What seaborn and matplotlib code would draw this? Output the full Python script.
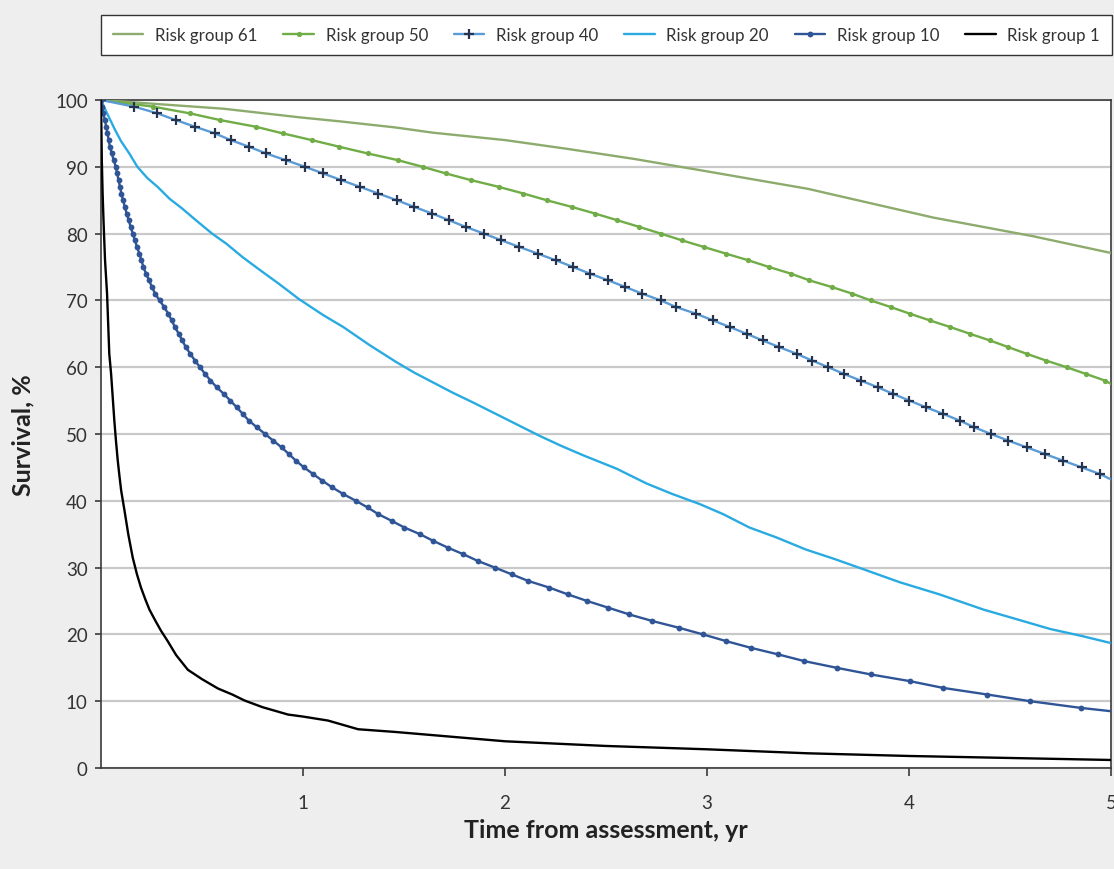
import matplotlib
matplotlib.use("Agg")
import matplotlib.pyplot as plt
from matplotlib.lines import Line2D
import seaborn as sns

# ---------------- data ----------------
series_labels = ["Risk group 61", "Risk group 50", "Risk group 40",
                 "Risk group 20", "Risk group 10", "Risk group 1"]

g61_time = [0.0, 0.276, 0.605, 0.985, 1.183, 1.455, 1.645, 2.0, 2.305, 2.635,
            2.965, 3.5, 3.658, 4.12, 4.615, 5.0]
g61_surv = [100, 99.4, 98.7, 97.4, 96.8, 95.9, 95.1, 94.0, 92.7, 91.2,
            89.5, 86.7, 85.6, 82.4, 79.6, 77.1]

g50_time = [0.0, 0.259, 0.44, 0.589, 0.766, 0.9, 1.043, 1.18, 1.32, 1.469,
            1.592, 1.708, 1.832, 1.969, 2.091, 2.206, 2.33, 2.446, 2.556, 2.665,
            2.771, 2.875, 2.984, 3.094, 3.205, 3.307, 3.416, 3.507, 3.618, 3.72,
            3.81, 3.91, 4.005, 4.104, 4.205, 4.302, 4.401, 4.492, 4.583, 4.678,
            4.78, 4.875, 4.97, 5.0]
g50_surv = [100, 99, 98, 97, 96, 95, 94, 93, 92, 91,
            90, 89, 88, 87, 86, 85, 84, 83, 82, 81,
            80, 79, 78, 77, 76, 75, 74, 73, 72, 71,
            70, 69, 68, 67, 66, 65, 64, 63, 62, 61,
            60, 59, 58, 57.5]

g40_time = [0.0, 0.165, 0.279, 0.37, 0.465, 0.564, 0.642, 0.733, 0.817, 0.914,
            1.01, 1.10, 1.19, 1.282, 1.373, 1.464, 1.55, 1.64, 1.723, 1.805,
            1.896, 1.982, 2.071, 2.162, 2.252, 2.337, 2.421, 2.511, 2.596, 2.68,
            2.771, 2.847, 2.946, 3.03, 3.114, 3.196, 3.276, 3.358, 3.444, 3.52,
            3.6, 3.677, 3.761, 3.845, 3.922, 4.002, 4.084, 4.17, 4.252, 4.323,
            4.406, 4.492, 4.583, 4.673, 4.764, 4.855, 4.946, 5.0]
g40_surv = [100, 99, 98, 97, 96, 95, 94, 93, 92, 91,
            90, 89, 88, 87, 86, 85, 84, 83, 82, 81,
            80, 79, 78, 77, 76, 75, 74, 73, 72, 71,
            70, 69, 68, 67, 66, 65, 64, 63, 62, 61,
            60, 59, 58, 57, 56, 55, 54, 53, 52, 51,
            50, 49, 48, 47, 46, 45, 44, 43.2]

g20_time = [0.0, 0.03, 0.07, 0.1, 0.14, 0.18, 0.23, 0.28, 0.34, 0.40,
            0.47, 0.55, 0.62, 0.70, 0.78, 0.88, 0.98, 1.1, 1.2, 1.33,
            1.46, 1.55, 1.645, 1.74, 1.843, 2.008, 2.1, 2.173, 2.28, 2.388,
            2.553, 2.7, 2.83, 2.965, 3.08, 3.21, 3.345, 3.49, 3.63, 3.77,
            3.955, 4.15, 4.37, 4.53, 4.7, 4.85, 5.0]
g20_surv = [100, 98, 95.5, 93.8, 92, 90, 88.3, 87, 85.2, 83.8,
            82, 80, 78.5, 76.5, 74.7, 72.5, 70.2, 67.8, 66, 63.3,
            60.8, 59.2, 57.7, 56.2, 54.7, 52.2, 50.8, 49.7, 48.2, 46.8,
            44.8, 42.6, 41, 39.5, 38, 36, 34.5, 32.7, 31.3, 29.8,
            27.8, 26, 23.7, 22.3, 20.8, 19.8, 18.7]

g10_time = [0.0, 0.006, 0.012, 0.019, 0.026, 0.032, 0.038, 0.044, 0.053, 0.063,
            0.073, 0.08, 0.087, 0.094, 0.101, 0.109, 0.118, 0.127, 0.137, 0.147,
            0.157, 0.168, 0.178, 0.19, 0.2, 0.21, 0.223, 0.238, 0.252, 0.268,
            0.29, 0.313, 0.333, 0.35, 0.366, 0.385, 0.402, 0.42, 0.442, 0.465,
            0.49, 0.515, 0.542, 0.573, 0.608, 0.64, 0.672, 0.702, 0.732, 0.772,
            0.812, 0.853, 0.894, 0.93, 0.965, 1.005, 1.05, 1.096, 1.145, 1.2,
            1.262, 1.32, 1.373, 1.439, 1.502, 1.579, 1.645, 1.716, 1.794, 1.865,
            1.95, 2.033, 2.115, 2.22, 2.31, 2.407, 2.511, 2.614, 2.73, 2.86,
            2.98, 3.094, 3.216, 3.353, 3.482, 3.642, 3.812, 4.005, 4.167, 4.388,
            4.6, 4.85, 5.0]
g10_surv = [100, 99, 98, 97, 96, 95, 94, 93, 92, 91,
            90, 89, 88, 87, 86, 85, 84, 83, 82, 81,
            80, 79, 78, 77, 76, 75, 74, 73, 72, 71,
            70, 69, 68, 67, 66, 65, 64, 63, 62, 61,
            60, 59, 58, 57, 56, 55, 54, 53, 52, 51,
            50, 49, 48, 47, 46, 45, 44, 43, 42, 41,
            40, 39, 38, 37, 36, 35, 34, 33, 32, 31,
            30, 29, 28, 27, 26, 25, 24, 23, 22, 21,
            20, 19, 18, 17, 16, 15, 14, 13, 12, 11,
            10, 9, 8.5]

g1_time = [0.0, 0.004, 0.008, 0.013, 0.02, 0.03, 0.041, 0.05, 0.058, 0.066,
           0.074, 0.083, 0.091, 0.1, 0.116, 0.135, 0.157, 0.178, 0.198, 0.22,
           0.24, 0.27, 0.298, 0.33, 0.372, 0.43, 0.5, 0.579, 0.65, 0.711,
           0.8, 0.926, 1.0, 1.124, 1.273, 1.455, 2.0, 2.5, 3.0, 3.5,
           4.0, 4.5, 5.0]
g1_surv = [100, 91, 86, 81.5, 76, 71, 62, 59, 55.5, 52,
           49, 46, 43.8, 41.5, 38.6, 35, 31.5, 29, 27, 25.2,
           23.7, 22, 20.5, 19, 16.9, 14.7, 13.3, 11.9, 11, 10.1,
           9.1, 8, 7.7, 7.1, 5.8, 5.4, 4, 3.3, 2.8, 2.2,
           1.8, 1.5, 1.2]

y_ticks = [0, 10, 20, 30, 40, 50, 60, 70, 80, 90, 100]
x_ticks = [1, 2, 3, 4, 5]

# ---------------- style ----------------
sns.set_theme(style="white")
plt.rcParams["font.family"] = ["Lato", "DejaVu Sans"]
plt.rcParams["xtick.major.pad"] = 13
plt.rcParams["ytick.major.pad"] = 5

W, H = 1114, 870
fig = plt.figure(figsize=(W / 100, H / 100), dpi=100, facecolor="#eeeeee")
ax = fig.add_axes([101 / W, 1 - 769 / H, (1111 - 101) / W, (769 - 101) / H])
ax.set_facecolor("white")

c61, c50, c40, c40m, c20, c10, c1 = ("#8dab6d", "#70ad47", "#5b9bd5", "#253551",
                                     "#29abe2", "#2f5597", "#000000")
lw = 1.7

sns.lineplot(x=g61_time, y=g61_surv, ax=ax, color=c61, lw=lw, sort=False,
             estimator=None, zorder=3)
sns.lineplot(x=g50_time, y=g50_surv, ax=ax, color=c50, lw=lw, sort=False,
             estimator=None, marker="o", markersize=3.8, markeredgewidth=0,
             markevery=list(range(len(g50_time) - 1)), zorder=3)
sns.lineplot(x=g40_time, y=g40_surv, ax=ax, color=c40, lw=lw, sort=False,
             estimator=None, marker="+", markersize=7, markeredgewidth=1.6,
             markeredgecolor=c40m, markevery=list(range(len(g40_time) - 1)),
             zorder=3)
sns.lineplot(x=g20_time, y=g20_surv, ax=ax, color=c20, lw=lw, sort=False,
             estimator=None, zorder=3)
sns.lineplot(x=g10_time, y=g10_surv, ax=ax, color=c10, lw=lw, sort=False,
             estimator=None, marker="o", markersize=4.2, markeredgewidth=0,
             markevery=list(range(len(g10_time) - 1)), zorder=4)
sns.lineplot(x=g1_time, y=g1_surv, ax=ax, color=c1, lw=lw, sort=False,
             estimator=None, zorder=5)

ax.set_xlim(0, 5)
ax.set_ylim(0, 100)
ax.set_xticks(x_ticks)
ax.set_xticklabels([str(v) for v in x_ticks])
ax.set_yticks(y_ticks)
ax.set_yticklabels([str(v) for v in y_ticks])

ax.yaxis.grid(True, color="#c9c9c9", lw=1.6)
ax.xaxis.grid(False)
ax.set_axisbelow(True)

for side in ["left", "bottom", "top", "right"]:
    ax.spines[side].set_visible(True)
    ax.spines[side].set_color("#3a3a3a")
    ax.spines[side].set_linewidth(1.2)

ax.tick_params(axis="x", direction="out", length=6, width=1.2, color="#3a3a3a",
               pad=13, labelsize=13.5, labelcolor="#333333", bottom=True)
ax.tick_params(axis="y", direction="out", length=4.5, width=1.2, color="#3a3a3a",
               pad=5, labelsize=13.5, labelcolor="#333333", left=True)

ax.set_xlabel("Time from assessment, yr", fontsize=18, fontweight="bold",
              color="#222222")
ax.xaxis.set_label_coords(0.5, -0.075)
ax.set_ylabel("Survival, %", fontsize=18, fontweight="bold", color="#222222")
ax.yaxis.set_label_coords(-0.066, 0.5)

if ax.get_legend() is not None:
    ax.get_legend().remove()

handles = [
    Line2D([], [], color=c61, lw=lw),
    Line2D([], [], color=c50, lw=lw, marker="o", markersize=3.8, markeredgewidth=0),
    Line2D([], [], color=c40, lw=lw, marker="+", markersize=7, markeredgewidth=1.6,
           markeredgecolor=c40m),
    Line2D([], [], color=c20, lw=lw),
    Line2D([], [], color=c10, lw=lw, marker="o", markersize=4.2, markeredgewidth=0),
    Line2D([], [], color=c1, lw=lw),
]
leg = fig.legend(handles, series_labels, loc="center",
                 bbox_to_anchor=(101 / W, 1 - 59 / H, (1112 - 101) / W, 46 / H),
                 mode="expand", ncol=6, frameon=True, fancybox=False,
                 edgecolor="#333333", facecolor="white", framealpha=1,
                 fontsize=12.2, handlelength=1.8, handletextpad=0.7,
                 borderaxespad=0, borderpad=0.7)
leg.get_frame().set_linewidth(1.0)
for t in leg.get_texts():
    t.set_color("#333333")

fig.savefig("out.png", dpi=100, facecolor=fig.get_facecolor())
